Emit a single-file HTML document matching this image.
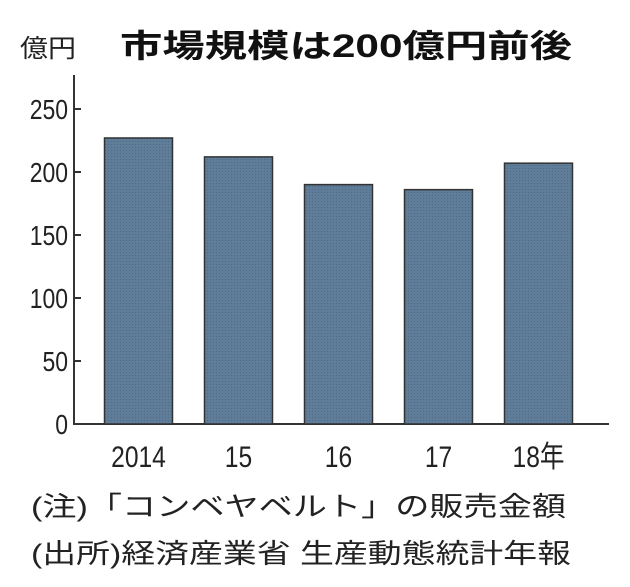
<!DOCTYPE html>
<html><head><meta charset="utf-8"><style>
html,body{margin:0;padding:0;background:#fff;}
svg{display:block;font-family:"Liberation Sans","Noto Sans CJK JP",sans-serif;}
</style></head><body>
<svg id="chart" width="630" height="587" viewBox="0 0 630 587">
<defs>
<pattern id="dots" width="3" height="3" patternUnits="userSpaceOnUse">
<rect width="3" height="3" fill="#5f7d98"/><rect width="1" height="1" fill="#4f6a84"/>
</pattern>
</defs>
<text x="20" y="57" font-size="25" fill="#222" textLength="56" lengthAdjust="spacingAndGlyphs">億円</text>
<text x="120" y="57" font-size="32" font-weight="bold" fill="#111" textLength="452" lengthAdjust="spacingAndGlyphs">市場規模は200億円前後</text>
<g id="axes"></g>
<g id="bars"></g>
<text x="31" y="516" font-size="27" fill="#222" textLength="535" lengthAdjust="spacingAndGlyphs">(注)「コンベヤベルト」の販売金額</text>
<text x="31" y="563" font-size="27" fill="#222" textLength="540" lengthAdjust="spacingAndGlyphs">(出所)経済産業省 生産動態統計年報</text>
</svg>
<script>
const categories = ["2014","15","16","17","18年"];
const values = [227, 212, 190, 186, 207];
const yTicks = [0, 50, 100, 150, 200, 250];
const NS = "http://www.w3.org/2000/svg";
const x0 = 74, x1 = 609, y0 = 424, yTop = 75, yMax = 250, yMaxPx = 109;
const y = v => y0 - (v / yMax) * (y0 - yMaxPx);
const band = 100, firstCenter = 138.5, barW = 68;
const xc = i => firstCenter + i * band;
function mk(tag, attrs, parent){const e=document.createElementNS(NS,tag);for(const k in attrs)e.setAttribute(k,attrs[k]);parent.appendChild(e);return e;}
const axes = document.getElementById('axes');
const bars = document.getElementById('bars');
const yAxis = mk('line',{x1:x0,y1:yTop,x2:x0,y2:y0+1,stroke:'#333','stroke-width':2},axes);


yTicks.forEach(t=>{
  const tk = mk('line',{x1:x0,y1:y(t),x2:x0+7,y2:y(t),stroke:'#333','stroke-width':2},axes);
  
  
  const lb = mk('text',{x:x0-6,y:y(t)+10,'text-anchor':'end','font-size':28,fill:'#222',transform:`translate(${(x0-6)*0.18},0) scale(0.82,1)`},axes);
  lb.textContent = t;
  
  
});
values.forEach((v,i)=>{
  const r = mk('rect',{x:xc(i)-barW/2,y:y(v),width:barW,height:y0-y(v),fill:'url(#dots)',stroke:'#333','stroke-width':1.5},bars);
  
  
  const lb = mk('text',{x:xc(i),y:467,'text-anchor':'middle','font-size':30,fill:'#222',transform:`translate(${xc(i)*0.18},0) scale(0.82,1)`},bars);
  lb.textContent = categories[i];
  
  
});
const xAxis = mk('line',{x1:x0-1,y1:y0,x2:x1,y2:y0,stroke:'#333','stroke-width':2},axes);


</script>
</body></html>
